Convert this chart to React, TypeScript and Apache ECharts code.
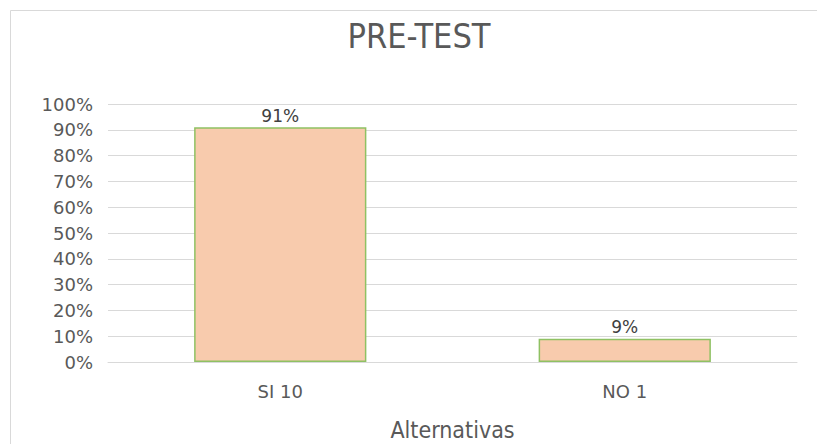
import React, { useEffect, useRef } from "react";
import * as echarts from "echarts";

const categories = ["SI 10", "NO 1"];
const percentages = [91, 9];
const titleText = "PRE-TEST";
const xAxisTitle = "Alternativas";

export default function App() {
  const ref = useRef<HTMLDivElement>(null);
  useEffect(() => {
    if (!ref.current) return;
    const chart = echarts.init(ref.current, null, { renderer: "svg" });
    const wide = "'DejaVu Sans', sans-serif";
    const narrow = "'Liberation Sans Narrow', 'DejaVu Sans Condensed', Roboto, sans-serif";
    const gridLeft = 100;
    const gridRight = 20;
    const w = 809;
    const plotCenter = gridLeft + (w - gridLeft - gridRight) / 2;
    chart.setOption({
      animation: false,
      backgroundColor: "#ffffff",
      graphic: [
        {
          type: "line",
          shape: { x1: 2.5, y1: 2.5, x2: 900, y2: 2.5 },
          style: { stroke: "#d9d9d9", lineWidth: 1 },
          silent: true,
        },
        {
          type: "line",
          shape: { x1: 2.5, y1: 2.5, x2: 2.5, y2: 600 },
          style: { stroke: "#d9d9d9", lineWidth: 1 },
          silent: true,
        },
        {
          type: "text",
          x: 411,
          y: 28,
          style: {
            text: titleText,
            font: `34px ${narrow}`,
            fill: "#595959",
            align: "center",
            verticalAlign: "middle",
          },
        },
        {
          type: "text",
          x: plotCenter,
          y: 422,
          style: {
            text: xAxisTitle,
            font: `23px ${narrow}`,
            fill: "#595959",
            align: "center",
            verticalAlign: "middle",
          },
        },
      ],
      grid: { left: gridLeft, right: gridRight, top: 96, bottom: 82, containLabel: false },
      xAxis: {
        type: "category",
        data: categories,
        axisLine: { show: true, lineStyle: { color: "#d9d9d9", width: 1 } },
        axisTick: { show: false },
        axisLabel: {
          color: "#595959",
          fontSize: 18,
          fontFamily: wide,
          margin: 20,
        },
      },
      yAxis: {
        type: "value",
        min: 0,
        max: 100,
        interval: 10,
        axisLine: { show: false },
        axisTick: { show: false },
        splitLine: { lineStyle: { color: "#d9d9d9", width: 1 } },
        axisLabel: {
          formatter: "{value}%",
          color: "#595959",
          fontSize: 18,
          fontFamily: wide,
          margin: 15,
          align: "right",
        },
      },
      series: [
        {
          type: "bar",
          data: percentages,
          barWidth: "50%",
          itemStyle: {
            color: "#f8cbad",
            borderColor: "#8fc163",
            borderWidth: 1.5,
          },
          label: {
            show: true,
            position: "top",
            formatter: "{c}%",
            color: "#404040",
            fontSize: 17,
            fontFamily: wide,
            distance: 3,
          },
        },
      ],
    });
    return () => chart.dispose();
  }, []);
  return (
    <div
      ref={ref}
      style={{ position: "fixed", left: 8, top: 8, width: 809, height: 436 }}
    />
  );
}
